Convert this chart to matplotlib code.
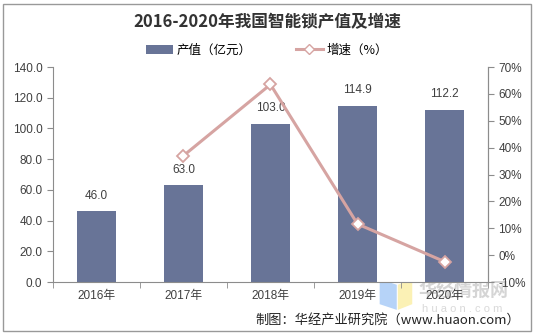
import matplotlib

matplotlib.use("Agg")
import matplotlib.pyplot as plt
from matplotlib.lines import Line2D
from matplotlib.patches import Patch, Rectangle, Polygon
import numpy as np

plt.rcParams["font.family"] = ["Liberation Sans", "Noto Sans CJK SC", "DejaVu Sans"]

years = ["2016年", "2017年", "2018年", "2019年", "2020年"]
output = [46.0, 63.0, 103.0, 114.9, 112.2]          # 产值（亿元）
growth = [None, 37.0, 63.5, 11.6, -2.4]             # 增速（%）

BAR_C = "#687497"
LINE_C = "#D6A4A2"
AX_C = "#8C8C8C"
TXT_C = "#404040"
CJK = ["Noto Sans CJK SC", "DejaVu Sans"]

fig = plt.figure(figsize=(5.34, 3.35), dpi=100)
ax = fig.add_axes([0.099, 0.158, 0.815, 0.642])
x = np.arange(len(years))

ax.bar(x, output, width=0.44, color=BAR_C, zorder=2)
for xi, v in zip(x, output):
    ax.annotate(f"{v:.1f}", (xi, v), xytext=(0, 7), textcoords="offset points",
                ha="center", va="bottom", fontsize=8.5, color=TXT_C)

ax.set_xlim(-0.5, len(years) - 0.5)
ax.set_ylim(0, 140)
ax.set_yticks(np.arange(0, 141, 20))
ax.set_yticklabels([f"{v:.1f}" for v in np.arange(0, 141, 20)])
ax.set_xticks(x)
ax.set_xticklabels(years)
ax.set_xticks(np.arange(-0.5, len(years)), minor=True)
ax.tick_params(axis="x", which="major", length=0, pad=6)
ax.tick_params(axis="x", which="minor", length=4, color=AX_C)
ax.tick_params(axis="y", length=4, color=AX_C)
ax.tick_params(labelsize=8.5, labelcolor=TXT_C)
ax.spines["top"].set_visible(False)
for s in ["left", "bottom", "right"]:
    ax.spines[s].set_color(AX_C)

ax2 = ax.twinx()
gx = [xi for xi, g in zip(x, growth) if g is not None]
gy = [g for g in growth if g is not None]
ax2.plot(gx, gy, color=LINE_C, lw=2.2, marker="D", ms=6, mfc="white",
         mec=LINE_C, mew=1.3, zorder=3)
ax2.set_ylim(-10, 70)
ax2.set_yticks(np.arange(-10, 71, 10))
ax2.set_yticklabels([f"{v}%" for v in range(-10, 71, 10)])
ax2.tick_params(axis="y", length=4, color=AX_C, labelsize=8.5, labelcolor=TXT_C)
for s in ["top", "left", "bottom"]:
    ax2.spines[s].set_visible(False)
ax2.spines["right"].set_color(AX_C)

fig.text(0.5, 0.935, "2016-2020年我国智能锁产值及增速", ha="center", va="center",
         fontsize=12, fontweight="bold", color="#333333", family=CJK)

handles = [
    Patch(facecolor=BAR_C, label="产值（亿元）"),
    Line2D([], [], color=LINE_C, lw=2.2, marker="D", ms=5, mfc="white",
           mec=LINE_C, label="增速（%）"),
]
fig.legend(handles=handles, loc="center", bbox_to_anchor=(0.5, 0.85), ncol=2,
           frameon=False, handlelength=2.2, columnspacing=3.5,
           handletextpad=0.3, prop={"family": CJK, "size": 9})

# watermark (faint, behind the axes text)
fig.patches.append(Polygon([[0.711, 0.167], [0.743, 0.150], [0.743, 0.075], [0.711, 0.092]],
                           closed=True, transform=fig.transFigure, zorder=-1,
                           facecolor="#A9CCF7", edgecolor="none", alpha=0.85))
fig.patches.append(Polygon([[0.745, 0.150], [0.772, 0.167], [0.772, 0.092], [0.745, 0.075]],
                           closed=True, transform=fig.transFigure, zorder=-1,
                           facecolor="#FBEFA8", edgecolor="none", alpha=0.85))
fig.text(0.784, 0.131, "华经情报网", fontsize=13, fontweight="bold", color="#C4C4C4",
         alpha=0.7, va="center", family=CJK, zorder=-1)
fig.text(0.79, 0.078, "h u a o n . c o m", fontsize=8, color="#D0D0D0", alpha=0.8,
         va="center", zorder=-1)

fig.text(0.975, 0.045, "制图：华经产业研究院（www.huaon.com）", ha="right", va="center",
         fontsize=9.5, color="#222222", family=CJK)

fig.patches.append(Rectangle((0.006, 0.012), 0.988, 0.976, transform=fig.transFigure,
                             fill=False, edgecolor="#999999", lw=1))

fig.savefig("out.png", dpi=100)
